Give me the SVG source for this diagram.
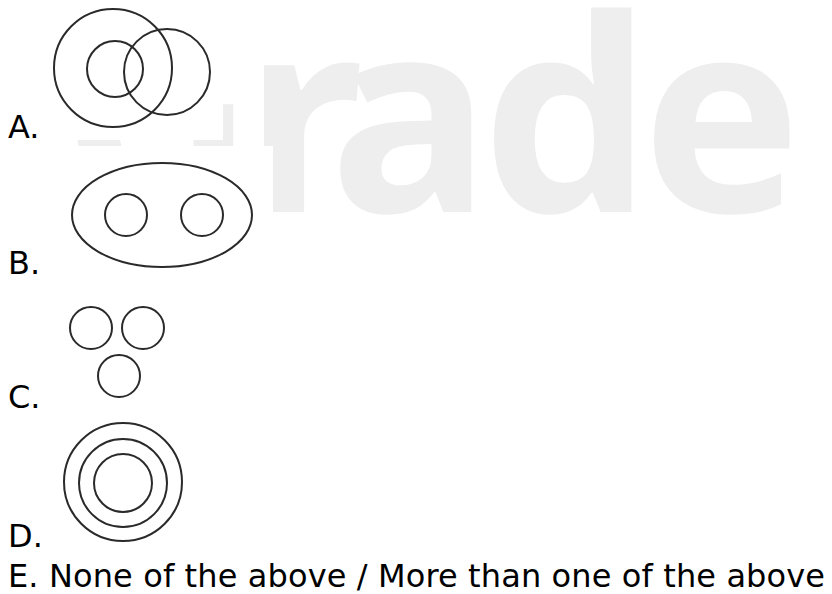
<svg xmlns="http://www.w3.org/2000/svg" width="832" height="594" viewBox="0 0 832 594">
<style>
.lbl{font-family:"DejaVu Sans","Verdana",sans-serif;font-size:32px;fill:#000}
.wm{font-family:"Open Sans","Noto Sans",sans-serif;font-weight:700;font-size:269px;fill:#eeeeee}
.s{fill:none;stroke:#2a2a2a;stroke-width:2}
</style>
<rect width="832" height="594" fill="#fff"/>
<g id="watermark">
<text class="wm" x="60 243 329 482 642" y="212">Grade</text>
</g>
<g id="option-a">
<rect x="0" y="0" width="223" height="140" fill="#fff"/>
<rect x="223" y="0" width="27" height="68" fill="#fff"/>
<circle class="s" cx="113" cy="68" r="59"/>
<circle class="s" cx="115" cy="69" r="28"/>
<circle class="s" cx="167" cy="72" r="43"/>
<text class="lbl" x="8" y="138">A.</text>
</g>
<g id="option-b">
<rect x="0" y="146" width="273" height="134" fill="#fff"/>
<ellipse class="s" cx="162" cy="215" rx="90" ry="52"/>
<circle class="s" cx="126" cy="215" r="21"/>
<circle class="s" cx="202" cy="215" r="21"/>
<text class="lbl" x="8" y="274">B.</text>
</g>
<g id="option-c">
<circle class="s" cx="91" cy="328" r="21"/>
<circle class="s" cx="143" cy="328" r="21"/>
<circle class="s" cx="119" cy="376" r="21"/>
<text class="lbl" x="8" y="408">C.</text>
</g>
<g id="option-d">
<circle class="s" cx="123" cy="482" r="59"/>
<circle class="s" cx="123" cy="483" r="44"/>
<circle class="s" cx="123" cy="483" r="29"/>
<text class="lbl" x="8" y="547">D.</text>
</g>
<g id="option-e">
<text class="lbl" x="8" y="587" textLength="817" lengthAdjust="spacing">E. None of the above / More than one of the above</text>
</g>
</svg>
